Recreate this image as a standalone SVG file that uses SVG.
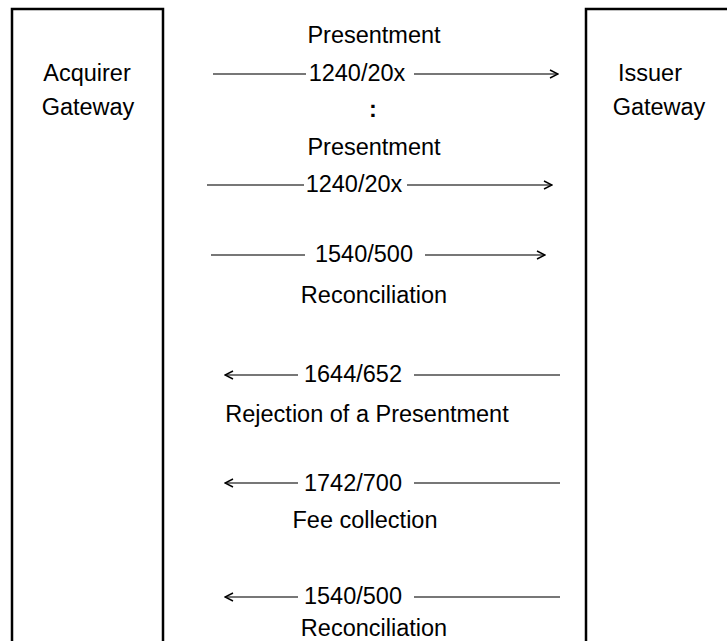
<svg xmlns="http://www.w3.org/2000/svg" width="727" height="641" viewBox="0 0 727 641">
  <style>
    .box { fill: none; stroke: #000; stroke-width: 2.5; }
    .lbl { font-family: "Liberation Sans", Arial, sans-serif; font-size: 23.5px; fill: #000; text-anchor: middle; }
    .msg { stroke: #4a4a4a; stroke-width: 1.3; fill: none; }
  </style>
  <defs>
    <marker id="head" viewBox="0 0 10 10" refX="9" refY="5" markerWidth="10" markerHeight="10" markerUnits="userSpaceOnUse" orient="auto-start-reverse">
      <path d="M1,1 L9,5 L1,9" fill="none" stroke="#000" stroke-width="1.4"/>
    </marker>
  </defs>
  <rect width="727" height="641" fill="#fff"/>

  <!-- gateway columns: open at the bottom (and at the right edge for the issuer) -->
  <g id="acquirer">
    <path class="box" d="M12,650 V9 H163 V650"/>
    <text class="lbl" x="87" y="81">Acquirer</text>
    <text class="lbl" x="88" y="115">Gateway</text>
  </g>

  <g id="issuer">
    <path class="box" d="M586,650 V9 H740"/>
    <text class="lbl" x="650" y="81">Issuer</text>
    <text class="lbl" x="659" y="115">Gateway</text>
  </g>

  <!-- message arrows; each is split round its code label -->
  <g id="connectors">
    <line class="msg" x1="213" y1="74" x2="306" y2="74"/>
    <line class="msg" x1="414" y1="74" x2="558" y2="74" marker-end="url(#head)"/>
    <line class="msg" x1="207" y1="185" x2="304" y2="185"/>
    <line class="msg" x1="407" y1="185" x2="552" y2="185" marker-end="url(#head)"/>
    <line class="msg" x1="211" y1="255" x2="305" y2="255"/>
    <line class="msg" x1="425" y1="255" x2="545" y2="255" marker-end="url(#head)"/>
    <line class="msg" x1="298" y1="375" x2="225" y2="375" marker-end="url(#head)"/>
    <line class="msg" x1="414" y1="375" x2="560" y2="375"/>
    <line class="msg" x1="298" y1="483" x2="225" y2="483" marker-end="url(#head)"/>
    <line class="msg" x1="414" y1="483" x2="560" y2="483"/>
    <line class="msg" x1="298" y1="597" x2="225" y2="597" marker-end="url(#head)"/>
    <line class="msg" x1="414" y1="597" x2="560" y2="597"/>
  </g>

  <g id="labels">
    <text class="lbl" x="374" y="43">Presentment</text>
    <text class="lbl" x="357" y="81">1240/20x</text>
    <text class="lbl" x="373" y="117" font-weight="bold">:</text>
    <text class="lbl" x="374" y="155">Presentment</text>
    <text class="lbl" x="354" y="192">1240/20x</text>
    <text class="lbl" x="364" y="262">1540/500</text>
    <text class="lbl" x="374" y="303">Reconciliation</text>
    <text class="lbl" x="353" y="382">1644/652</text>
    <text class="lbl" x="367" y="422">Rejection of a Presentment</text>
    <text class="lbl" x="353" y="491">1742/700</text>
    <text class="lbl" x="365" y="528">Fee collection</text>
    <text class="lbl" x="353" y="604">1540/500</text>
    <text class="lbl" x="374" y="636">Reconciliation</text>
  </g>
</svg>
